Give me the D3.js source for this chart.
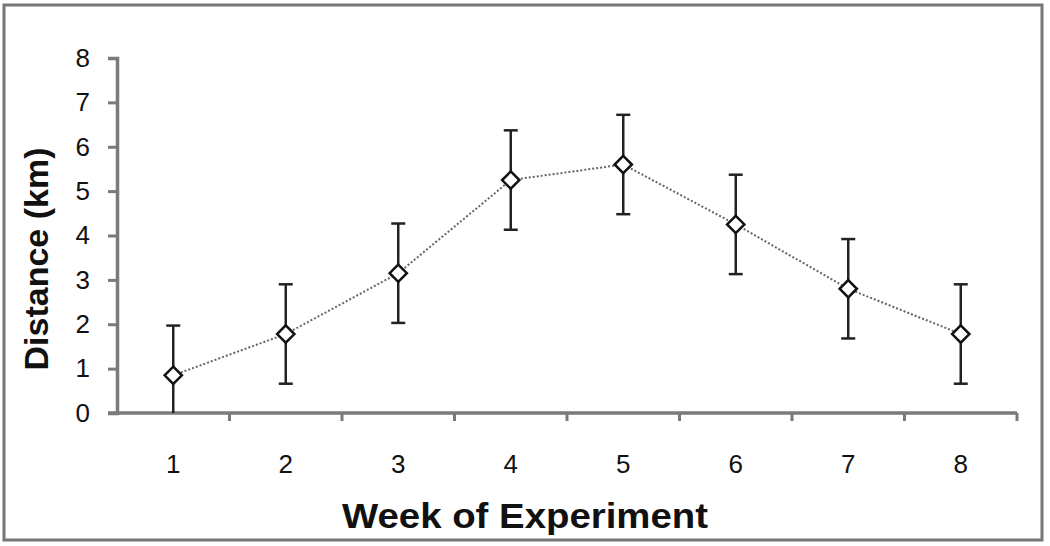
<!DOCTYPE html>
<html>
<head>
<meta charset="utf-8">
<script src="https://cdn.jsdelivr.net/npm/d3@7"></script>
<style>
  body { margin: 0; background: #fff; }
  svg { display: block; font-family: "Liberation Sans", Arial, sans-serif; }
</style>
</head>
<body>
<div id="chart"></div>
<script>
// weeks + mean distance + error
const weeks = [1, 2, 3, 4, 5, 6, 7, 8];
const distance = [0.85, 1.78, 3.15, 5.25, 5.6, 4.25, 2.8, 1.78];
const errors = [1.12, 1.12, 1.12, 1.12, 1.12, 1.12, 1.12, 1.12];
const yTicks = [0, 1, 2, 3, 4, 5, 6, 7, 8];

const width = 1050, height = 546;
const margin = {left: 117, right: 33, top: 58, bottom: 133};

const svg = d3.select("#chart").append("svg")
    .attr("width", width)
    .attr("height", height);

// outer frame
svg.append("rect")
    .attr("x", 4).attr("y", 5)
    .attr("width", 1038).attr("height", 535)
    .attr("fill", "none")
    .attr("stroke", "#777")
    .attr("stroke-width", 3);

const x = d3.scaleBand()
    .domain(weeks)
    .range([margin.left, width - margin.right]);

const y = d3.scaleLinear()
    .domain([0, 8])
    .range([height - margin.bottom, margin.top]);

const axisColor = "#7a7a7a";

// y axis
const yAxis = svg.append("g")
    .attr("transform", `translate(${margin.left},0)`)
    .call(d3.axisLeft(y).tickValues(yTicks).tickSize(9).tickPadding(18));
yAxis.select(".domain").attr("stroke", axisColor).attr("stroke-width", 3.5);
yAxis.selectAll(".tick line").attr("stroke", axisColor).attr("stroke-width", 3);
yAxis.selectAll("text").attr("font-size", 26).attr("fill", "#111");

// x axis: ticks sit on band edges, labels in the middle
const xAxis = svg.append("g")
    .attr("transform", `translate(0,${y(0)})`);
xAxis.append("line")
    .attr("x1", margin.left - 9).attr("x2", width - margin.right)
    .attr("stroke", axisColor).attr("stroke-width", 3.5);
xAxis.selectAll(".xt")
    .data(weeks)
    .enter().append("line")
    .attr("class", "xt")
    .attr("x1", d => x(d) + x.bandwidth())
    .attr("x2", d => x(d) + x.bandwidth())
    .attr("y1", 0).attr("y2", 8)
    .attr("stroke", axisColor).attr("stroke-width", 3);
xAxis.selectAll(".xl")
    .data(weeks)
    .enter().append("text")
    .attr("class", "xl")
    .attr("x", d => x(d) + x.bandwidth() / 2)
    .attr("y", 60)
    .attr("text-anchor", "middle")
    .attr("font-size", 26)
    .attr("fill", "#111")
    .text(d => d);

const cx = d => x(d) + x.bandwidth() / 2;

// dotted connecting line
svg.append("path")
    .datum(weeks)
    .attr("fill", "none")
    .attr("stroke", "#666")
    .attr("stroke-width", 2)
    .attr("stroke-dasharray", "2,2")
    .attr("d", d3.line().x(d => cx(d)).y((d, i) => y(distance[i])));

// error bars
const eb = svg.selectAll(".err")
    .data(weeks)
    .enter().append("g")
    .attr("class", "err")
    .attr("stroke", "#222")
    .attr("stroke-width", 2.5);
eb.append("line")
    .attr("x1", cx).attr("x2", cx)
    .attr("y1", (d, i) => y(Math.max(0, distance[i] - errors[i])))
    .attr("y2", (d, i) => y(distance[i] + errors[i]));
eb.append("line")
    .attr("x1", d => cx(d) - 7).attr("x2", d => cx(d) + 7)
    .attr("y1", (d, i) => y(distance[i] + errors[i]))
    .attr("y2", (d, i) => y(distance[i] + errors[i]));
eb.filter((d, i) => distance[i] - errors[i] > 0).append("line")
    .attr("x1", d => cx(d) - 7).attr("x2", d => cx(d) + 7)
    .attr("y1", d => y(distance[weeks.indexOf(d)] - errors[weeks.indexOf(d)]))
    .attr("y2", d => y(distance[weeks.indexOf(d)] - errors[weeks.indexOf(d)]));

// diamond markers
svg.selectAll(".pt")
    .data(weeks)
    .enter().append("path")
    .attr("class", "pt")
    .attr("transform", (d, i) => `translate(${cx(d)},${y(distance[i])})`)
    .attr("d", d3.symbol().type(d3.symbolDiamond2).size(190))
    .attr("fill", "#fff")
    .attr("stroke", "#111")
    .attr("stroke-width", 2.5);

// axis titles
svg.append("text")
    .attr("transform", "translate(48,259) rotate(-90)")
    .attr("text-anchor", "middle")
    .attr("font-size", 34)
    .attr("font-weight", "bold")
    .attr("fill", "#111")
    .text("Distance (km)");

svg.append("text")
    .attr("x", 525)
    .attr("y", 528)
    .attr("text-anchor", "middle")
    .attr("font-size", 35)
    .attr("font-weight", "bold")
    .attr("fill", "#111")
    .attr("textLength", 366)
    .attr("lengthAdjust", "spacingAndGlyphs")
    .text("Week of Experiment");
</script>
</body>
</html>
